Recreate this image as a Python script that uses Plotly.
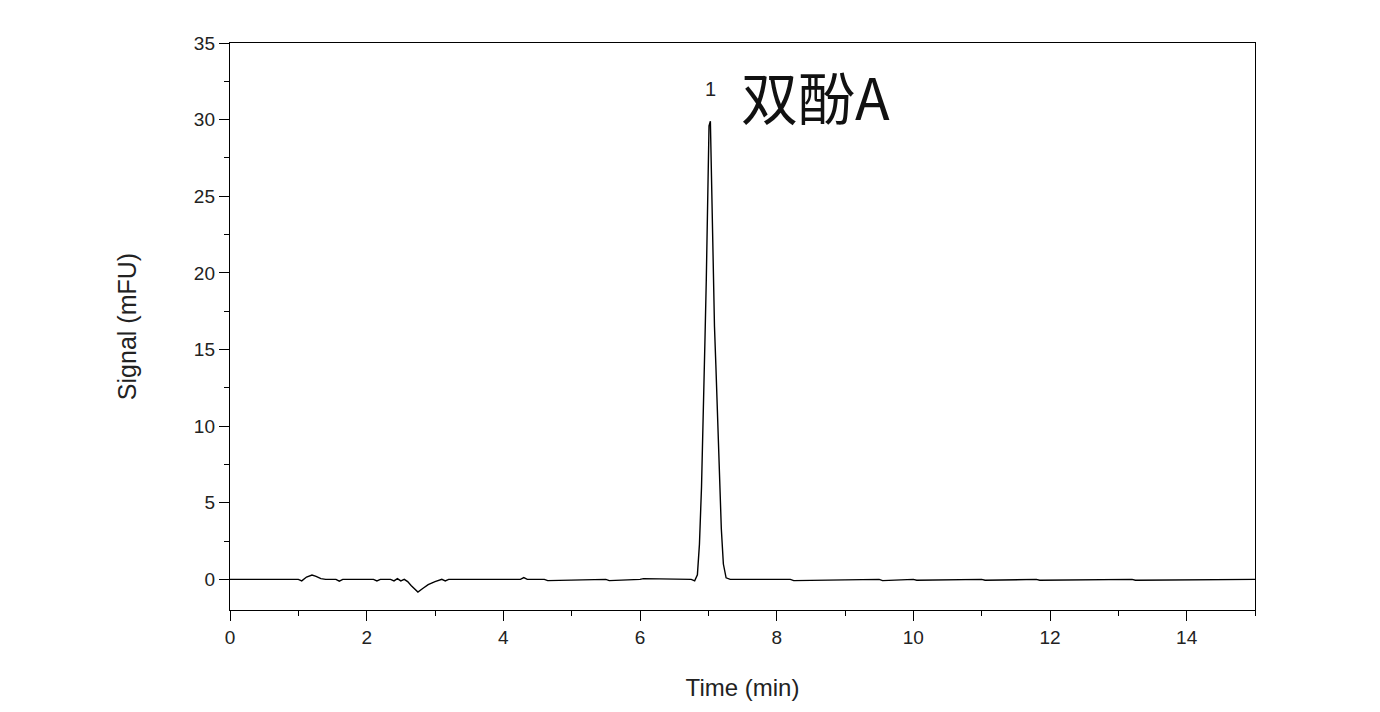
import plotly.graph_objects as go

# Chromatogram trace (time in min, signal in mFU)
time_min = [0.0, 1.0, 1.05, 1.12, 1.2, 1.26, 1.33, 1.4, 1.55, 1.6, 1.65, 1.9, 2.1, 2.15, 2.2,
            2.35, 2.4, 2.45, 2.5, 2.55, 2.6, 2.65, 2.7, 2.75, 2.82, 2.9, 3.0, 3.1, 3.15, 3.2,
            3.5, 4.25, 4.3, 4.35, 4.6, 4.65, 5.5, 5.55, 6.0, 6.05, 6.75, 6.8, 6.84, 6.87,
            6.9, 6.92, 6.95, 6.97, 6.99, 7.01, 7.03, 7.05, 7.07, 7.09, 7.11, 7.13, 7.16,
            7.19, 7.22, 7.26, 7.32, 8.2, 8.25, 9.5, 9.55, 10.0, 10.05, 11.0, 11.05, 11.8,
            11.85, 12.6, 13.2, 13.25, 15.0]
signal_mfu = [0.0, 0.0, -0.1, 0.15, 0.28, 0.2, 0.05, 0.0, 0.0, -0.12, 0.0, 0.0, 0.0, -0.1, 0.0,
              0.0, -0.1, 0.05, -0.1, 0.0, -0.15, -0.4, -0.65, -0.83, -0.6, -0.35, -0.15, 0.0,
              -0.1, 0.0, 0.0, 0.0, 0.12, 0.0, 0.0, -0.08, 0.0, -0.08, 0.0, 0.05, 0.0, -0.1,
              0.3, 2.3, 6.0, 10.8, 15.5, 19.5, 25.0, 29.6, 29.9, 25.0, 20.8, 16.5, 14.0, 11.0,
              6.5, 3.3, 1.0, 0.1, 0.0, 0.0, -0.08, 0.0, -0.08, 0.0, -0.06, 0.0, -0.06, 0.0,
              -0.06, 0.0, 0.0, -0.06, 0.0]

peak_label = "1"
compound_label = "双酚A"
x_ticks = [0, 2, 4, 6, 8, 10, 12, 14]
y_ticks = [0, 5, 10, 15, 20, 25, 30, 35]

apex_i = max(range(len(signal_mfu)), key=lambda i: signal_mfu[i])

FONT = "Liberation Sans, Arial"

fig = go.Figure()
fig.add_trace(go.Scatter(x=time_min, y=signal_mfu, mode="lines",
                         line=dict(color="black", width=1.4), showlegend=False,
                         hoverinfo="x+y"))

fig.add_annotation(x=time_min[apex_i], y=signal_mfu[apex_i], text=peak_label,
                   showarrow=False, yshift=32, xref="x", yref="y",
                   font=dict(size=20, color="#222", family=FONT))
fig.add_annotation(x=7.45, y=31.6, text=compound_label, showarrow=False, xanchor="left",
                   xref="x", yref="y",
                   font=dict(size=57, color="#111", family="Noto Sans CJK SC"))

axis_common = dict(showline=True, linecolor="black", linewidth=1.4, mirror=True,
                   ticks="outside", tickcolor="black", tickwidth=1.2, ticklen=10,
                   showgrid=False, zeroline=False,
                   tickfont=dict(size=19, color="#222", family=FONT))

fig.update_xaxes(range=[0, 15], tickvals=x_ticks,
                 minor=dict(ticks="outside", ticklen=5, tickcolor="black", dtick=1, tick0=0),
                 title=dict(text="Time (min)", standoff=32,
                            font=dict(size=24, color="#222", family=FONT)),
                 **axis_common)
fig.update_yaxes(range=[-2, 35], tickvals=y_ticks,
                 minor=dict(ticks="outside", ticklen=5, tickcolor="black", dtick=2.5, tick0=0),
                 title=dict(text="Signal (mFU)", standoff=50,
                            font=dict(size=25, color="#222", family=FONT)),
                 **axis_common)

fig.update_layout(width=1380, height=712, plot_bgcolor="white", paper_bgcolor="white",
                  margin=dict(l=222, r=133, t=35, b=110))

fig.write_html("out.html")
